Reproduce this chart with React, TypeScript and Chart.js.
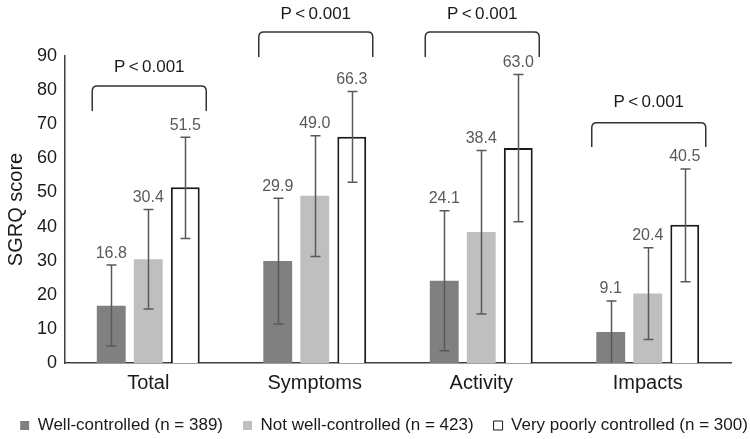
import React, { useEffect, useRef } from "react";
import { Chart, registerables } from "chart.js";

Chart.register(...registerables);

const categories = ["Total", "Symptoms", "Activity", "Impacts"];
const seriesNames = [
  "Well-controlled (n = 389)",
  "Not well-controlled (n = 423)",
  "Very poorly controlled (n = 300)",
];
const wellValues = [16.8, 29.9, 24.1, 9.1];
const notWellValues = [30.4, 49.0, 38.4, 20.4];
const poorValues = [51.5, 66.3, 63.0, 40.5];
const wellLow = [5.0, 11.4, 3.6, 0.0];
const wellHigh = [28.7, 48.3, 44.6, 18.2];
const notWellLow = [15.8, 31.2, 14.4, 6.9];
const notWellHigh = [45.0, 66.6, 62.3, 33.8];
const poorLow = [36.5, 53.0, 41.4, 23.8];
const poorHigh = [66.2, 79.6, 84.6, 56.9];
const pLabels = ["P\u2009<\u20090.001", "P\u2009<\u20090.001", "P\u2009<\u20090.001", "P\u2009<\u20090.001"];
const bracketTop = [81.2, 97.0, 97.0, 70.4];
const bracketEnd = [73.9, 89.7, 89.7, 63.3];
const pLabelLevel = [86.8, 102.2, 102.2, 76.5];
const yTicks = [0, 10, 20, 30, 40, 50, 60, 70, 80, 90];

const FONT = "Arial, 'Liberation Sans', sans-serif";

const errPlugin = {
  id: "errBars",
  afterDatasetsDraw(chart: any) {
    const ctx = chart.ctx;
    const y = chart.scales.y;
    const lows = [wellLow, notWellLow, poorLow];
    const highs = [wellHigh, notWellHigh, poorHigh];
    const vals = [wellValues, notWellValues, poorValues];
    ctx.save();
    chart.data.datasets.forEach((ds: any, di: number) => {
      const meta = chart.getDatasetMeta(di);
      meta.data.forEach((bar: any, i: number) => {
        const x = Math.round(bar.x) + 0.5;
        const yl = y.getPixelForValue(lows[di][i]);
        const yh = y.getPixelForValue(highs[di][i]);
        ctx.strokeStyle = "#595959";
        ctx.lineWidth = 1.5;
        ctx.beginPath();
        ctx.moveTo(x, yl);
        ctx.lineTo(x, yh);
        ctx.moveTo(x - 5, yh);
        ctx.lineTo(x + 5, yh);
        if (lows[di][i] > 0) {
          ctx.moveTo(x - 5, yl);
          ctx.lineTo(x + 5, yl);
        }
        ctx.stroke();
        ctx.fillStyle = "#595959";
        ctx.font = "16px " + FONT;
        ctx.textAlign = "center";
        ctx.textBaseline = "bottom";
        ctx.fillText(vals[di][i].toFixed(1), bar.x, yh - 4);
      });
    });
    const xs = chart.scales.x;
    categories.forEach((c, i) => {
      const cx = xs.getPixelForValue(i);
      const left = cx - 56;
      const right = cx + 58;
      const top = y.getPixelForValue(bracketTop[i]);
      const end = y.getPixelForValue(bracketEnd[i]);
      const r = 5;
      ctx.strokeStyle = "#333333";
      ctx.lineWidth = 1.5;
      ctx.beginPath();
      ctx.moveTo(left, end);
      ctx.lineTo(left, top + r);
      ctx.quadraticCurveTo(left, top, left + r, top);
      ctx.lineTo(right - r, top);
      ctx.quadraticCurveTo(right, top, right, top + r);
      ctx.lineTo(right, end);
      ctx.stroke();
      ctx.fillStyle = "#1a1a1a";
      ctx.font = "17px " + FONT;
      ctx.textAlign = "center";
      ctx.textBaseline = "middle";
      ctx.fillText(pLabels[i], cx + 1, y.getPixelForValue(pLabelLevel[i]));
    });
    ctx.restore();
  },
};

export default function App() {
  const ref = useRef<HTMLCanvasElement>(null);
  useEffect(() => {
    if (!ref.current) return;
    const chart = new Chart(ref.current, {
      type: "bar",
      data: {
        labels: categories,
        datasets: [
          {
            label: seriesNames[0],
            data: wellValues,
            backgroundColor: "#808080",
            borderColor: "#808080",
            borderWidth: 0,
          },
          {
            label: seriesNames[1],
            data: notWellValues,
            backgroundColor: "#bfbfbf",
            borderColor: "#bfbfbf",
            borderWidth: 0,
          },
          {
            label: seriesNames[2],
            data: poorValues,
            backgroundColor: "#ffffff",
            borderColor: "#1a1a1a",
            borderWidth: 2,
          },
        ],
      },
      options: {
        animation: false,
        responsive: false,
        maintainAspectRatio: false,
        layout: { padding: { top: 56, right: -18, left: 0, bottom: -5 } },
        datasets: { bar: { categoryPercentage: 0.667, barPercentage: 0.78 } },
        scales: {
          x: {
            afterFit: (s: any) => {
              s.height = 34;
            },
            grid: { display: false, drawTicks: false },
            border: { color: "#404040", width: 1.5 },
            ticks: { color: "#1a1a1a", font: { size: 20, family: FONT }, padding: 8 },
          },
          y: {
            min: 0,
            max: 90,
            afterBuildTicks: (s: any) => {
              s.ticks = yTicks.map((v) => ({ value: v }));
            },
            afterFit: (s: any) => {
              s.width = 65;
            },
            grid: { display: false, drawOnChartArea: false, drawTicks: true, tickLength: 5, color: "#404040" },
            border: { color: "#404040", width: 1.5 },
            ticks: { color: "#1a1a1a", font: { size: 18, family: FONT }, padding: 3 },
            title: {
              display: true,
              text: "SGRQ score",
              color: "#1a1a1a",
              font: { size: 20, family: FONT },
              padding: { top: 4, bottom: 0 },
            },
          },
          yRight: {
            position: "right",
            display: true,
            afterFit: (s: any) => {
              s.width = 37;
            },
            grid: { display: false, drawTicks: false },
            border: { display: false },
            ticks: { display: false },
          },
        },
        plugins: {
          legend: {
            position: "bottom",
            labels: {
              boxWidth: 9,
              boxHeight: 9,
              padding: 20,
              color: "#1a1a1a",
              font: { size: 17, family: FONT },
              generateLabels: (chart: any) =>
                chart.data.datasets.map((ds: any, i: number) => ({
                  text: ds.label,
                  fillStyle: ds.backgroundColor,
                  strokeStyle: i === 2 ? "#1a1a1a" : ds.backgroundColor,
                  lineWidth: i === 2 ? 1 : 0,
                  datasetIndex: i,
                  fontColor: "#1a1a1a",
                })),
            },
          },
          tooltip: { enabled: false },
        },
      },
      plugins: [errPlugin],
    });
    return () => chart.destroy();
  }, []);
  return (
    <div style={{ position: "fixed", left: 0, top: 0, width: 750, height: 439, background: "#fff" }}>
      <canvas ref={ref} width={750} height={439} style={{ width: 750, height: 439 }} />
    </div>
  );
}
